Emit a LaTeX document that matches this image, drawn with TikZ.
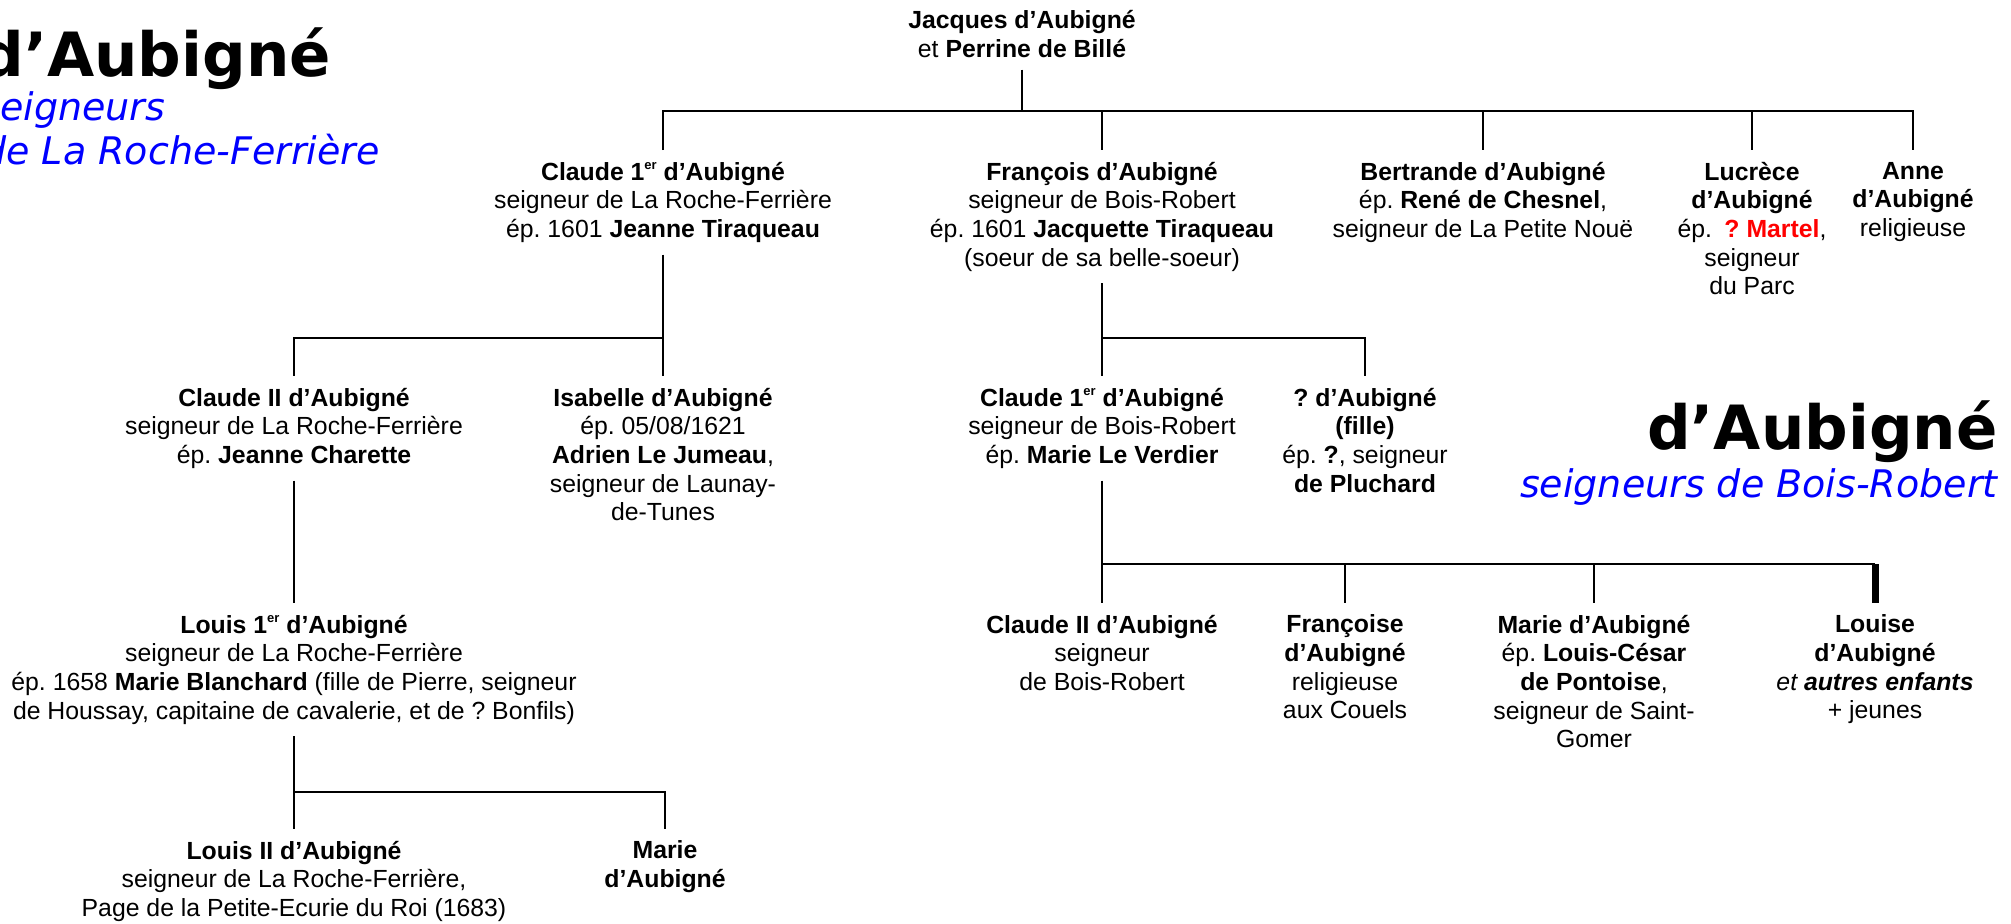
\documentclass[tikz,border=0pt]{standalone}
\usepackage{fontspec}
\setmainfont{Liberation Sans}
\newfontfamily\titrefont{DejaVu Sans}
\newcommand\premier{1\raisebox{0.42em}{\fontsize{6.5pt}{6.5pt}\selectfont er}}
\frenchspacing

\begin{document}
\begin{tikzpicture}[x=0.5pt,y=-0.5pt]
\tikzset{personne/.style={align=center, inner sep=0pt, outer ysep=6pt, anchor=north, font=\fontsize{12.4pt}{14.3pt}\selectfont},
  titre/.style={inner sep=0pt, font=\titrefont\bfseries\fontsize{30.5pt}{30pt}\selectfont},
  soustitre/.style={inner sep=0pt, text=blue, font=\titrefont\itshape\fontsize{19pt}{22pt}\selectfont},
  lien/.style={line width=1.2pt}}
\useasboundingbox (0,0) rectangle (2011,923);
\clip (0,0) rectangle (2011,923);
\node[titre, anchor=base west] (titreA) at (-20,76) {d’Aubigné};
\node[soustitre, anchor=base west] (sousA1) at (-20,120) {seigneurs};
\node[soustitre, anchor=base west] (sousA2) at (-18,164) {de La Roche-Ferrière};
\node[titre, anchor=base east] (titreB) at (1998,449) {d’Aubigné};
\node[soustitre, anchor=base east] (sousB) at (1998,497) {seigneurs de Bois-Robert};
\node[personne] (jacques) at (1022,-1.5) {\textbf{Jacques d’Aubigné}\\et \textbf{Perrine de Billé}};
\node[personne] (claudeA) at (663,150) {\textbf{Claude \premier\ d’Aubigné}\\seigneur de La Roche-Ferrière\\ép. 1601 \textbf{Jeanne Tiraqueau}};
\node[personne] (francois) at (1102,150) {\textbf{François d’Aubigné}\\seigneur de Bois-Robert\\ép. 1601 \textbf{Jacquette Tiraqueau}\\(soeur de sa belle-soeur)};
\node[personne] (bertrande) at (1483,150) {\textbf{Bertrande d’Aubigné}\\ép. \textbf{René de Chesnel},\\seigneur de La Petite Nouë};
\node[personne] (lucrece) at (1752,150) {\textbf{Lucrèce}\\\textbf{d’Aubigné}\\ép.\enspace\textcolor{red}{\textbf{? Martel}},\\seigneur\\du Parc};
\node[personne] (anne) at (1913,150) {\textbf{Anne}\\\textbf{d’Aubigné}\\religieuse};
\node[personne] (claudeB) at (294,376) {\textbf{Claude II d’Aubigné}\\seigneur de La Roche-Ferrière\\ép. \textbf{Jeanne Charette}};
\node[personne] (isabelle) at (663,376) {\textbf{Isabelle d’Aubigné}\\ép. 05/08/1621\\\textbf{Adrien Le Jumeau},\\seigneur de Launay-\\de-Tunes};
\node[personne] (claudeC) at (1102,376) {\textbf{Claude \premier\ d’Aubigné}\\seigneur de Bois-Robert\\ép. \textbf{Marie Le Verdier}};
\node[personne] (fille) at (1365,376) {\textbf{? d’Aubigné}\\\textbf{(fille)}\\ép. \textbf{?}, seigneur\\\textbf{de Pluchard}};
\node[personne] (louisA) at (294,603) {\textbf{Louis \premier\ d’Aubigné}\\seigneur de La Roche-Ferrière\\ép. 1658 \textbf{Marie Blanchard} (fille de Pierre, seigneur\\de Houssay, capitaine de cavalerie, et de ? Bonfils)};
\node[personne] (louisB) at (294,829) {\textbf{Louis II d’Aubigné}\\seigneur de La Roche-Ferrière,\\Page de la Petite-Ecurie du Roi (1683)};
\node[personne] (marieA) at (665,829) {\textbf{Marie}\\\textbf{d’Aubigné}};
\node[personne] (claudeD) at (1102,603) {\textbf{Claude II d’Aubigné}\\seigneur\\de Bois-Robert};
\node[personne] (francoise) at (1345,603) {\textbf{Françoise}\\\textbf{d’Aubigné}\\religieuse\\aux Couels};
\node[personne] (marieB) at (1594,603) {\textbf{Marie d’Aubigné}\\ép. \textbf{Louis-César}\\\textbf{de Pontoise},\\seigneur de Saint-\\Gomer};
\node[personne] (louise) at (1875,603) {\textbf{Louise}\\\textbf{d’Aubigné}\\\textit{et \textbf{autres enfants}}\\+ jeunes};
\coordinate (r1) at (0,111);
\coordinate (r2) at (0,338);
\coordinate (r3) at (0,792);
\coordinate (r4) at (0,564);
\draw[lien] (jacques.south) -- (jacques |- r1);
\draw[lien] (claudeA.north) -- (claudeA |- r1) -- (anne |- r1) -- (anne.north);
\foreach \n in {francois,bertrande,lucrece} \draw[lien] (\n |- r1) -- (\n.north);
\draw[lien] (claudeA.south) -- (isabelle.north);
\draw[lien] (isabelle |- r2) -- (claudeB |- r2) -- (claudeB.north);
\draw[lien] (francois.south) -- (claudeC.north);
\draw[lien] (claudeC |- r2) -- (fille |- r2) -- (fille.north);
\draw[lien] (claudeB.south) -- (louisA.north);
\draw[lien] (louisA.south) -- (louisB.north);
\draw[lien] (louisB |- r3) -- (marieA |- r3) -- (marieA.north);
\draw[lien] (claudeC.south) -- (claudeD.north);
\draw[lien] (claudeD |- r4) -- (louise |- r4);
\foreach \n in {francoise,marieB} \draw[lien] (\n |- r4) -- (\n.north);
\draw[lien, line width=3.5pt] (louise |- r4) -- (louise.north);
\end{tikzpicture}
\end{document}
